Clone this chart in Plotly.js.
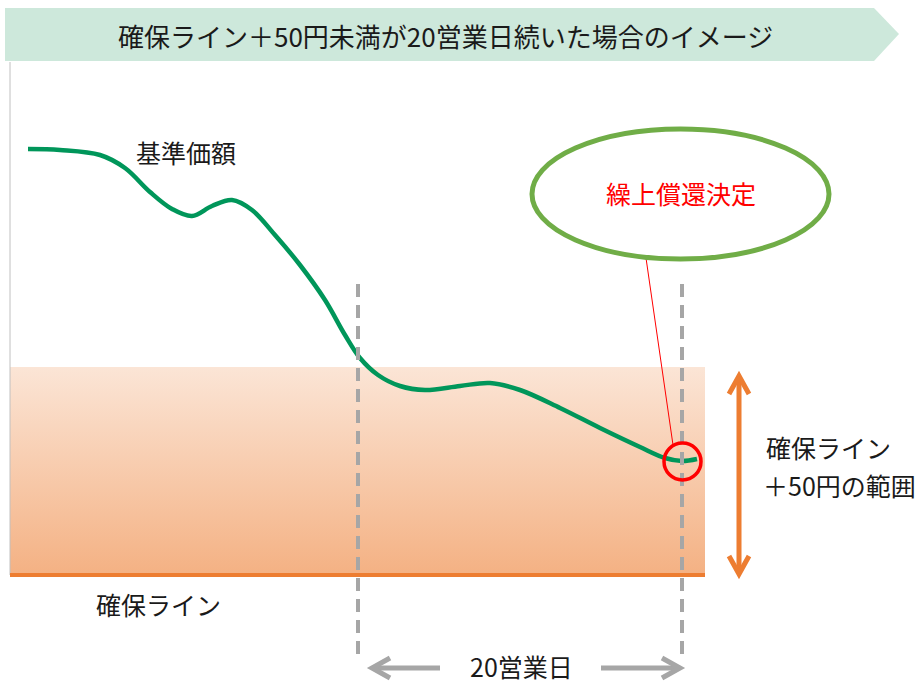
<!DOCTYPE html>
<html><head><meta charset="utf-8">
<script src="https://cdn.plot.ly/plotly-3.0.1.min.js"></script>
<style>html,body{margin:0;padding:0;background:#fff}</style>
</head><body><div id="chart" style="width:924px;height:683px"></div>
<script>
// Illustration data (chart units = page units, y downward)
const navX = [28, 60, 100, 125, 150, 172, 192, 212, 232, 252, 275, 300, 325, 345, 360, 378, 400, 425, 460, 490, 520, 560, 600, 640, 665, 682, 697];
const navY = [149, 150, 155, 168, 192, 209, 216, 206, 200, 210, 235, 265, 300, 335, 358, 375, 386, 390, 386, 383, 390, 408, 428, 447, 458, 461, 459];
const bandX = [10, 705];          // range band left/right
const bandY = [367, 575];         // top (+50円) / bottom (確保ライン)
const dashX = [358, 682];         // 20-business-day window
const dashY = [284, 660];
const titleText = '確保ライン＋50円未満が20営業日続いた場合のイメージ';
const labels = {nav: '基準価額', floor: '確保ライン', range1: '確保ライン', range2: '＋50円の範囲', days: '20営業日', call: '繰上償還決定'};

const font = '"Noto Sans CJK JP", "Noto Sans", sans-serif';
const gray = '#a6a6a6', orange = '#ed7d31', green = '#00965a', ring = '#70ad47';

const traces = [
  { x: [bandX[0], bandX[1], bandX[1], bandX[0], bandX[0]],
    y: [bandY[0], bandY[0], bandY[1], bandY[1], bandY[0]],
    mode: 'lines', line: {width: 0}, fill: 'toself', hoverinfo: 'skip',
    fillgradient: {type: 'vertical', colorscale: [[0, '#f4b183'], [1, '#fbe5d6']]} },
  { x: navX, y: navY, mode: 'lines', line: {color: green, width: 4.5, shape: 'spline', smoothing: 1}, hoverinfo: 'skip' }
];

const shapes = [
  {type: 'path', path: 'M 5,8 L 874,8 L 899,34 L 874,61 L 5,61 Z', fillcolor: '#cde8db', line: {width: 0}, layer: 'below'},
  {type: 'line', x0: bandX[0], x1: bandX[0], y0: 62, y1: bandY[1], line: {color: '#c0c0c0', width: 1}},
  {type: 'line', x0: bandX[0], x1: bandX[1], y0: bandY[1], y1: bandY[1], line: {color: orange, width: 4}},
  {type: 'line', x0: dashX[0], x1: dashX[0], y0: dashY[0], y1: dashY[1], line: {color: gray, width: 4, dash: '13px,8px'}},
  {type: 'line', x0: dashX[1], x1: dashX[1], y0: dashY[0], y1: dashY[1], line: {color: gray, width: 4, dash: '13px,8px'}},
  {type: 'circle', x0: 664, x1: 701, y0: 443, y1: 480, line: {color: '#ff0000', width: 3.5}},
  {type: 'line', x0: 646, x1: 673, y0: 258, y1: 445, line: {color: '#ff0000', width: 1}},
  {type: 'circle', x0: 532, x1: 829, y0: 129, y1: 259, fillcolor: 'rgba(255,255,255,0)', line: {color: ring, width: 5}},
  // orange double arrow
  {type: 'line', x0: 739, x1: 739, y0: 376, y1: 574, line: {color: orange, width: 5}},
  {type: 'path', path: 'M 729,394 L 739,376 L 749,394', line: {color: orange, width: 5}},
  {type: 'path', path: 'M 729,556 L 739,574 L 749,556', line: {color: orange, width: 5}},
  // gray arrows
  {type: 'line', x0: 372, x1: 440, y0: 668, y1: 668, line: {color: gray, width: 5}},
  {type: 'path', path: 'M 390,658 L 372,668 L 390,678', line: {color: gray, width: 5}},
  {type: 'line', x0: 601, x1: 680, y0: 668, y1: 668, line: {color: gray, width: 5}},
  {type: 'path', path: 'M 662,658 L 680,668 L 662,678', line: {color: gray, width: 5}}
];

const ann = (x, y, text, size, color) => ({x, y, xref: 'x', yref: 'y', text, showarrow: false,
  font: {family: font, size, color: color || '#1a1a1a'}, xanchor: 'center', yanchor: 'middle', borderpad: 0});

const annotations = [
  ann(445, 35, titleText, 26),
  ann(186, 152, labels.nav, 25),
  ann(158, 604, labels.floor, 25),
  ann(828, 447, labels.range1, 25),
  ann(839, 485, labels.range2, 25),
  ann(521, 666, labels.days, 25),
  ann(681, 193, labels.call, 25, '#ff0000')
];

Plotly.newPlot('chart', traces, {
  width: 924, height: 683, margin: {l: 0, r: 0, t: 0, b: 0},
  paper_bgcolor: '#fff', plot_bgcolor: '#fff', showlegend: false,
  xaxis: {range: [0, 924], visible: false, fixedrange: true},
  yaxis: {range: [683, 0], visible: false, fixedrange: true},
  shapes, annotations
}, {staticPlot: true});
</script></body></html>
